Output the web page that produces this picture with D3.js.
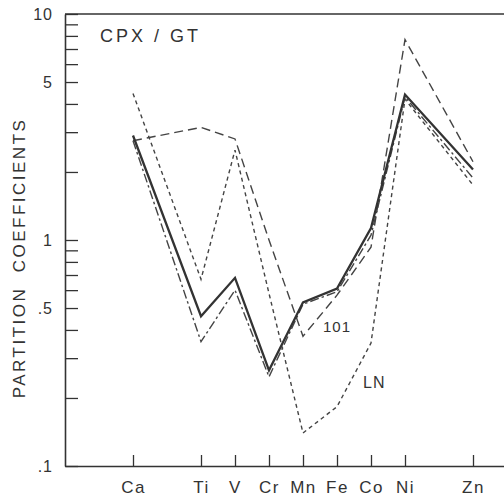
<!DOCTYPE html>
<html><head><meta charset="utf-8">
<script src="https://cdn.jsdelivr.net/npm/d3@7"></script>
<style>
body{margin:0;background:#fff}
text{font-family:"Liberation Sans",Arial,Helvetica,sans-serif;fill:#333}
</style>
</head><body>
<svg id="c" width="504" height="497"></svg>
<script>
// ---- data ----
const elements = ["Ca","Ti","V","Cr","Mn","Fe","Co","Ni","Zn"];
const atomicNumbers = [20,22,23,24,25,26,27,28,30];
const seriesSolid   = [2.9, 0.46, 0.68, 0.265, 0.53, 0.61, 1.13, 4.4, 2.05];
const seriesDashDot = [2.75, 0.355, 0.60, 0.248, 0.52, 0.59, 1.05, 4.3, 1.88];
const series101     = [2.75, 3.15, 2.8, 1.0, 0.375, 0.57, 0.93, 7.7, 2.22];
const seriesLN      = [4.45, 0.67, 2.5, 0.58, 0.14, 0.183, 0.35, 4.2, 1.75];
const yTickValues = [0.1,0.2,0.3,0.4,0.5,0.6,0.7,0.8,0.9,1,2,3,4,5,6,7,8,9,10];
const yTickLabels = new Map([[0.1,".1"],[0.5,".5"],[1,"1"],[5,"5"],[10,"10"]]);
const titleText = "CPX / GT";
const yTitle = "PARTITION  COEFFICIENTS";

// ---- chart ----
const svg = d3.select("#c");
const x = d3.scaleLinear().domain([18,31]).range([65,507]);
const y = d3.scaleLog().domain([0.1,10]).range([466,14]);
const ink = "#333";

// y axis
const gy = svg.append("g").attr("transform",`translate(${x.range()[0]},0)`)
  .call(d3.axisLeft(y).tickValues(yTickValues).tickSizeInner(-13).tickSizeOuter(0)
    .tickPadding(12).tickFormat(d => yTickLabels.get(d) || ""));
gy.select(".domain").attr("stroke",ink).attr("stroke-width",1.6);
gy.selectAll(".tick line").attr("stroke",ink).attr("stroke-width",1.3);
gy.selectAll(".tick text").style("font-size","16px").style("letter-spacing","1px")
  .attr("fill",ink);

// x axis
const gx = svg.append("g").attr("transform",`translate(0,${y.range()[0]})`)
  .call(d3.axisBottom(x).tickValues(atomicNumbers).tickSizeInner(-11).tickSizeOuter(0)
    .tickPadding(15).tickFormat((d,i) => elements[i]));
gx.select(".domain").attr("stroke",ink).attr("stroke-width",1.6);
gx.selectAll(".tick line").attr("stroke",ink).attr("stroke-width",1.3);
gx.selectAll(".tick text").style("font-size","17px").style("letter-spacing","1.5px")
  .attr("fill",ink);

// top frame
svg.append("line").attr("x1",x.range()[0]).attr("x2",x.range()[1])
  .attr("y1",y.range()[1]).attr("y2",y.range()[1])
  .attr("stroke",ink).attr("stroke-width",1.6);

// lines
const line = d3.line().x(d => x(d[0])).y(d => y(d[1]));
const series = [
  {vals: series101,     dash: "9,5",      w: 1.4, c: "#444"},
  {vals: seriesLN,      dash: "4,3.5",    w: 1.4, c: "#444"},
  {vals: seriesDashDot, dash: "9,3,2.5,3",w: 1.4, c: "#444"},
  {vals: seriesSolid,   dash: null,       w: 2.3, c: "#333"}
];
series.forEach(s => {
  const pts = atomicNumbers.map((z,i) => [z, s.vals[i]]).filter(d => d[1] != null);
  svg.append("path").attr("d", line(pts)).attr("fill","none")
    .attr("stroke", s.c).attr("stroke-width", s.w)
    .attr("stroke-dasharray", s.dash).attr("stroke-linejoin","miter");
});

// texts
svg.append("text").attr("x",100).attr("y",42).text(titleText)
  .style("font-size","18px").style("letter-spacing","3px");
svg.append("text").attr("transform","translate(25,258) rotate(-90)")
  .attr("text-anchor","middle").text(yTitle)
  .style("font-size","17px").style("letter-spacing","2.5px").style("white-space","pre");
svg.append("text").attr("x",323).attr("y",332).text("101")
  .style("font-size","15px").style("letter-spacing","1px");
svg.append("text").attr("x",363).attr("y",388).text("LN")
  .style("font-size","16px").style("letter-spacing","1px");
</script>
</body></html>
